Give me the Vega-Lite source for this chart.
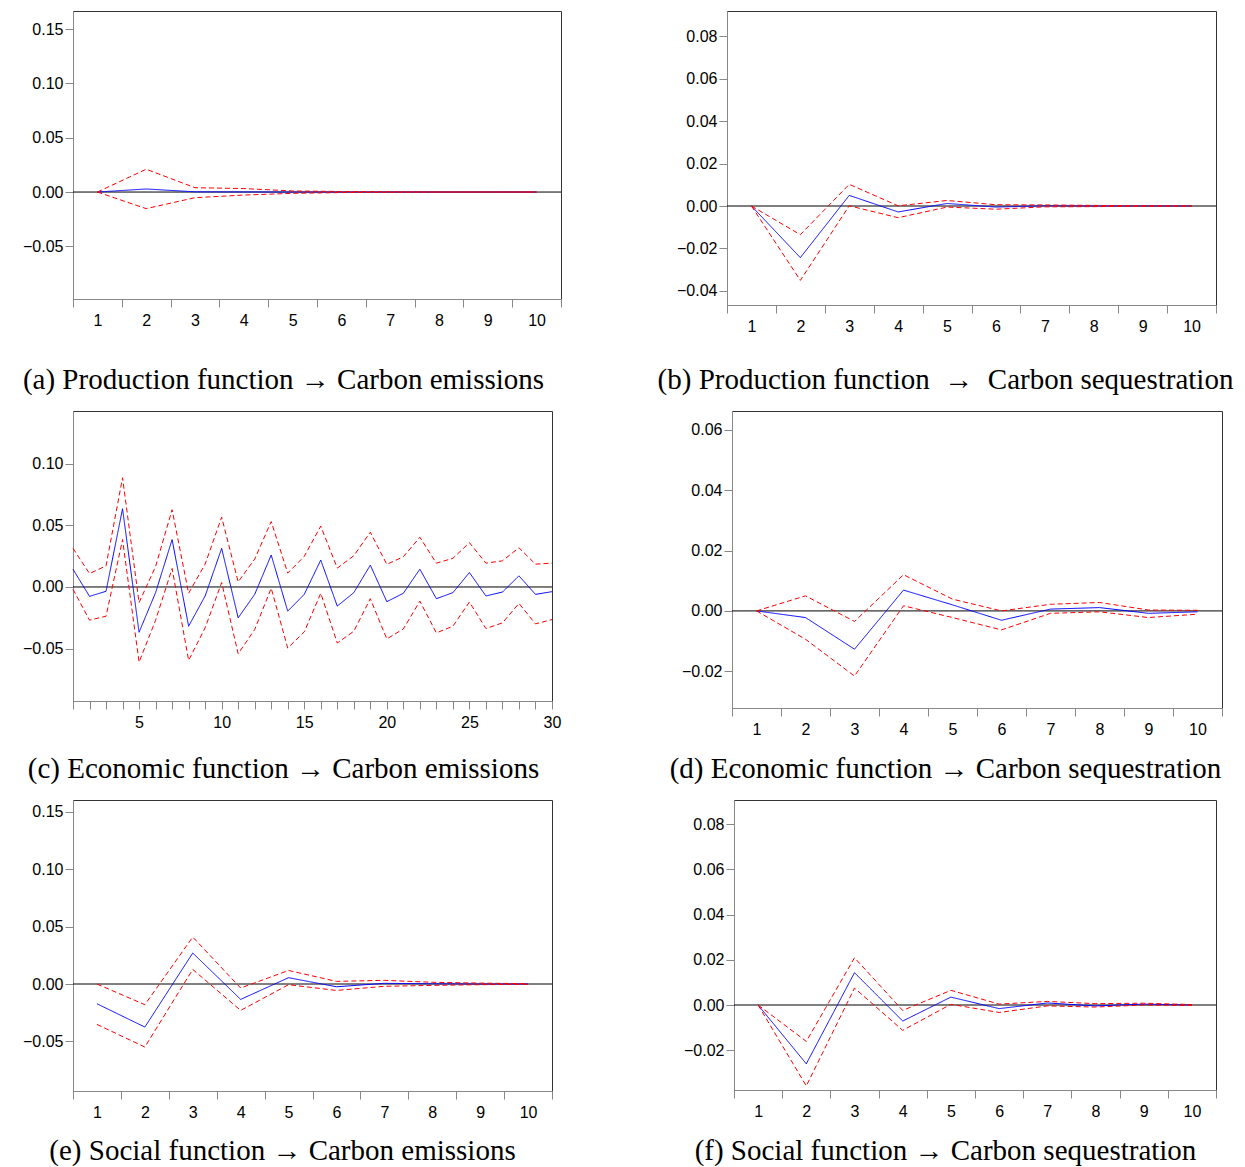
{
  "$schema": "https://vega.github.io/schema/vega-lite/v6.json",
  "background": "white",
  "padding": {"left": 12, "top": 10, "right": 5, "bottom": 0},
  "autosize": {"type": "pad"},
  "columns": 2,
  "align": "none",
  "bounds": "full",
  "spacing": {"row": 15, "column": 10},
  "config": {
    "view": {"stroke": "#333", "strokeWidth": 1},
    "axis": {"labelFont": "Liberation Sans", "labelFontSize": 16, "labelColor": "#000", "domainColor": "#888", "tickColor": "#888", "tickSize": 8, "grid": false, "titleFont": "Liberation Serif", "titleFontSize": 29, "titleFontWeight": "normal", "titleColor": "#000"},
    "axisX": {"labelPadding": 5},
    "axisY": {"labelPadding": 2}
  },
  "datasets": {
    "a": [
      {"h": 1, "r": 0, "u": 0, "l": 0},
      {"h": 2, "r": 0.0028, "u": 0.021, "l": -0.0153},
      {"h": 3, "r": 0.0002, "u": 0.004, "l": -0.0052},
      {"h": 4, "r": 0.0001, "u": 0.0032, "l": -0.0028},
      {"h": 5, "r": 0, "u": 0.001, "l": -0.0012},
      {"h": 6, "r": 0, "u": 0.0005, "l": -0.0005},
      {"h": 7, "r": 0, "u": 0.0002, "l": -0.0002},
      {"h": 8, "r": 0, "u": 0.0001, "l": -0.0001},
      {"h": 9, "r": 0, "u": 0.0001, "l": -0.0001},
      {"h": 10, "r": 0, "u": 0, "l": 0}
    ],
    "b": [
      {"h": 1, "r": 0, "u": 0, "l": 0},
      {"h": 2, "r": -0.0243, "u": -0.0135, "l": -0.035},
      {"h": 3, "r": 0.005, "u": 0.0102, "l": 0.0001},
      {"h": 4, "r": -0.0028, "u": 0.0001, "l": -0.0055},
      {"h": 5, "r": 0.0012, "u": 0.0026, "l": -0.0005},
      {"h": 6, "r": -0.0005, "u": 0.0006, "l": -0.0015},
      {"h": 7, "r": 0.0001, "u": 0.0005, "l": -0.0004},
      {"h": 8, "r": 0, "u": 0.0003, "l": -0.0003},
      {"h": 9, "r": 0, "u": 0.0001, "l": -0.0001},
      {"h": 10, "r": 0, "u": 0, "l": 0}
    ],
    "c": [
      {"h": 1, "r": 0.0144, "u": 0.0313, "l": -0.0019},
      {"h": 2, "r": -0.0076, "u": 0.0109, "l": -0.0269},
      {"h": 3, "r": -0.0035, "u": 0.0171, "l": -0.0237},
      {"h": 4, "r": 0.0634, "u": 0.0885, "l": 0.0384},
      {"h": 5, "r": -0.0367, "u": -0.0127, "l": -0.0609},
      {"h": 6, "r": -0.0046, "u": 0.0166, "l": -0.027},
      {"h": 7, "r": 0.0384, "u": 0.0626, "l": 0.015},
      {"h": 8, "r": -0.0318, "u": -0.0051, "l": -0.0595},
      {"h": 9, "r": -0.0073, "u": 0.0185, "l": -0.0331},
      {"h": 10, "r": 0.0313, "u": 0.0566, "l": 0.0036},
      {"h": 11, "r": -0.025, "u": 0.0041, "l": -0.0541},
      {"h": 12, "r": -0.006, "u": 0.0226, "l": -0.0345},
      {"h": 13, "r": 0.0259, "u": 0.053, "l": -0.001},
      {"h": 14, "r": -0.0196, "u": 0.0112, "l": -0.0495},
      {"h": 15, "r": -0.006, "u": 0.0248, "l": -0.0364},
      {"h": 16, "r": 0.0218, "u": 0.0493, "l": -0.0051},
      {"h": 17, "r": -0.0155, "u": 0.0153, "l": -0.0454},
      {"h": 18, "r": -0.0046, "u": 0.0253, "l": -0.0359},
      {"h": 19, "r": 0.0177, "u": 0.0444, "l": -0.0095},
      {"h": 20, "r": -0.0119, "u": 0.0183, "l": -0.0421},
      {"h": 21, "r": -0.0051, "u": 0.0245, "l": -0.034},
      {"h": 22, "r": 0.0144, "u": 0.0403, "l": -0.0115},
      {"h": 23, "r": -0.0095, "u": 0.0193, "l": -0.0372},
      {"h": 24, "r": -0.0046, "u": 0.0232, "l": -0.0318},
      {"h": 25, "r": 0.0117, "u": 0.0359, "l": -0.0122},
      {"h": 26, "r": -0.0073, "u": 0.0193, "l": -0.0337},
      {"h": 27, "r": -0.0041, "u": 0.0212, "l": -0.0291},
      {"h": 28, "r": 0.009, "u": 0.0318, "l": -0.0133},
      {"h": 29, "r": -0.006, "u": 0.0185, "l": -0.0299},
      {"h": 30, "r": -0.0038, "u": 0.0193, "l": -0.0264}
    ],
    "d": [
      {"h": 1, "r": 0, "u": 0, "l": 0},
      {"h": 2, "r": -0.0022, "u": 0.005, "l": -0.0094},
      {"h": 3, "r": -0.0127, "u": -0.0035, "l": -0.0216},
      {"h": 4, "r": 0.0069, "u": 0.012, "l": 0.0017},
      {"h": 5, "r": 0.002, "u": 0.0039, "l": -0.0022},
      {"h": 6, "r": -0.0031, "u": 0, "l": -0.0063},
      {"h": 7, "r": 0.0006, "u": 0.0022, "l": -0.0008},
      {"h": 8, "r": 0.0011, "u": 0.0028, "l": -0.0003},
      {"h": 9, "r": -0.0008, "u": 0.0003, "l": -0.0022},
      {"h": 10, "r": -0.0003, "u": 0.0002, "l": -0.0011}
    ],
    "e": [
      {"h": 1, "r": -0.0172, "u": 0, "l": -0.0352},
      {"h": 2, "r": -0.0375, "u": -0.018, "l": -0.0549},
      {"h": 3, "r": 0.027, "u": 0.0409, "l": 0.0127},
      {"h": 4, "r": -0.0134, "u": -0.0035, "l": -0.023},
      {"h": 5, "r": 0.0055, "u": 0.0118, "l": -0.0006},
      {"h": 6, "r": -0.0024, "u": 0.0023, "l": -0.0056},
      {"h": 7, "r": 0.0006, "u": 0.0032, "l": -0.002},
      {"h": 8, "r": 0.0002, "u": 0.0015, "l": -0.0012},
      {"h": 9, "r": 0, "u": 0.0008, "l": -0.0006},
      {"h": 10, "r": 0, "u": 0.0003, "l": -0.0003}
    ],
    "f": [
      {"h": 1, "r": 0, "u": 0, "l": 0},
      {"h": 2, "r": -0.026, "u": -0.0161, "l": -0.0358},
      {"h": 3, "r": 0.0143, "u": 0.0209, "l": 0.0075},
      {"h": 4, "r": -0.0071, "u": -0.0024, "l": -0.0112},
      {"h": 5, "r": 0.0035, "u": 0.0065, "l": 0.0003},
      {"h": 6, "r": -0.0016, "u": 0.0004, "l": -0.0033},
      {"h": 7, "r": 0.0009, "u": 0.0016, "l": -0.0004},
      {"h": 8, "r": -0.0004, "u": 0.0006, "l": -0.0009},
      {"h": 9, "r": 0.0004, "u": 0.0008, "l": 0},
      {"h": 10, "r": 0, "u": 0.0002, "l": -0.0002}
    ]
  },
  "concat": [
    {
      "width": 488, "height": 288,
      "layer": [
        {"data": {"values": [{"v": 0}]}, "mark": {"type": "rule", "color": "#000", "strokeWidth": 1},
         "encoding": {"y": {"field": "v", "type": "quantitative", "scale": {"domain": [-0.0985, 0.1667], "nice": false, "zero": false}, "axis": {"values": [-0.05, 0, 0.05, 0.1, 0.15], "format": ".2f", "title": null, "minExtent": 60}}}},
        {"data": {"name": "a"}, "transform": [{"fold": ["r", "u", "l"], "as": ["s", "v"]}],
         "mark": {"type": "line", "strokeWidth": 1},
         "encoding": {
           "x": {"field": "h", "type": "ordinal", "bandPosition": 0.5, "scale": {"type": "band", "paddingInner": 0, "paddingOuter": 0},
                 "axis": {"tickBand": "extent", "labelAngle": 0, "title": "(a) Production function → Carbon emissions", "titleX": 210, "titleY": 89, "titleBaseline": "alphabetic"}},
           "y": {"field": "v", "type": "quantitative", "scale": {"domain": [-0.0985, 0.1667], "nice": false, "zero": false},
                 "axis": {"values": [-0.05, 0, 0.05, 0.1, 0.15], "format": ".2f", "title": null, "minExtent": 60}},
           "color": {"field": "s", "type": "nominal", "scale": {"domain": ["r", "u", "l"], "range": ["#0000ff", "#ff0000", "#ff0000"]}, "legend": null},
           "strokeDash": {"field": "s", "type": "nominal", "scale": {"domain": ["r", "u", "l"], "range": [[1, 0], [5, 3], [5, 3]]}, "legend": null}
         }}
      ]
    },
    {
      "width": 489, "height": 294,
      "layer": [
        {"data": {"values": [{"v": 0}]}, "mark": {"type": "rule", "color": "#000", "strokeWidth": 1},
         "encoding": {"y": {"field": "v", "type": "quantitative", "scale": {"domain": [-0.0466, 0.0918], "nice": false, "zero": false}, "axis": {"values": [-0.04, -0.02, 0, 0.02, 0.04, 0.06, 0.08], "format": ".2f", "title": null, "minExtent": 154}}}},
        {"data": {"name": "b"}, "transform": [{"fold": ["r", "u", "l"], "as": ["s", "v"]}],
         "mark": {"type": "line", "strokeWidth": 1},
         "encoding": {
           "x": {"field": "h", "type": "ordinal", "bandPosition": 0.5, "scale": {"type": "band", "paddingInner": 0, "paddingOuter": 0},
                 "axis": {"tickBand": "extent", "labelAngle": 0, "title": "(b) Production function\u00a0 →\u00a0 Carbon sequestration", "titleX": 218, "titleY": 83, "titleBaseline": "alphabetic"}},
           "y": {"field": "v", "type": "quantitative", "scale": {"domain": [-0.0466, 0.0918], "nice": false, "zero": false},
                 "axis": {"values": [-0.04, -0.02, 0, 0.02, 0.04, 0.06, 0.08], "format": ".2f", "title": null, "minExtent": 154}},
           "color": {"field": "s", "type": "nominal", "scale": {"domain": ["r", "u", "l"], "range": ["#0000ff", "#ff0000", "#ff0000"]}, "legend": null},
           "strokeDash": {"field": "s", "type": "nominal", "scale": {"domain": ["r", "u", "l"], "range": [[1, 0], [5, 3], [5, 3]]}, "legend": null}
         }}
      ]
    },
    {
      "width": 479, "height": 290,
      "layer": [
        {"data": {"values": [{"v": 0}]}, "mark": {"type": "rule", "color": "#000", "strokeWidth": 1},
         "encoding": {"y": {"field": "v", "type": "quantitative", "scale": {"domain": [-0.0924, 0.1426], "nice": false, "zero": false}, "axis": {"values": [-0.05, 0, 0.05, 0.1], "format": ".2f", "title": null, "minExtent": 60}}}},
        {"data": {"name": "c"}, "transform": [{"fold": ["r", "u", "l"], "as": ["s", "v"]}],
         "mark": {"type": "line", "strokeWidth": 1},
         "encoding": {
           "x": {"field": "h", "type": "quantitative", "scale": {"domain": [1, 30], "nice": false, "zero": false},
                 "axis": {"values": [1,2,3,4,5,6,7,8,9,10,11,12,13,14,15,16,17,18,19,20,21,22,23,24,25,26,27,28,29,30], "format": "d", "labelExpr": "datum.value % 5 === 0 ? datum.label : ''", "labelFlush": false, "labelOverlap": false, "title": "(c) Economic function → Carbon emissions", "titleX": 210, "titleY": 76, "titleBaseline": "alphabetic"}},
           "y": {"field": "v", "type": "quantitative", "scale": {"domain": [-0.0924, 0.1426], "nice": false, "zero": false},
                 "axis": {"values": [-0.05, 0, 0.05, 0.1], "format": ".2f", "title": null, "minExtent": 60}},
           "color": {"field": "s", "type": "nominal", "scale": {"domain": ["r", "u", "l"], "range": ["#0000ff", "#ff0000", "#ff0000"]}, "legend": null},
           "strokeDash": {"field": "s", "type": "nominal", "scale": {"domain": ["r", "u", "l"], "range": [[1, 0], [5, 3], [5, 3]]}, "legend": null}
         }}
      ]
    },
    {
      "width": 490, "height": 297,
      "layer": [
        {"data": {"values": [{"v": 0}]}, "mark": {"type": "rule", "color": "#000", "strokeWidth": 1},
         "encoding": {"y": {"field": "v", "type": "quantitative", "scale": {"domain": [-0.0322, 0.0663], "nice": false, "zero": false}, "axis": {"values": [-0.02, 0, 0.02, 0.04, 0.06], "format": ".2f", "title": null, "minExtent": 159}}}},
        {"data": {"name": "d"}, "transform": [{"fold": ["r", "u", "l"], "as": ["s", "v"]}],
         "mark": {"type": "line", "strokeWidth": 1},
         "encoding": {
           "x": {"field": "h", "type": "ordinal", "bandPosition": 0.5, "scale": {"type": "band", "paddingInner": 0, "paddingOuter": 0},
                 "axis": {"tickBand": "extent", "labelAngle": 0, "title": "(d) Economic function → Carbon sequestration", "titleX": 213, "titleY": 69, "titleBaseline": "alphabetic"}},
           "y": {"field": "v", "type": "quantitative", "scale": {"domain": [-0.0322, 0.0663], "nice": false, "zero": false},
                 "axis": {"values": [-0.02, 0, 0.02, 0.04, 0.06], "format": ".2f", "title": null, "minExtent": 159}},
           "color": {"field": "s", "type": "nominal", "scale": {"domain": ["r", "u", "l"], "range": ["#0000ff", "#ff0000", "#ff0000"]}, "legend": null},
           "strokeDash": {"field": "s", "type": "nominal", "scale": {"domain": ["r", "u", "l"], "range": [[1, 0], [5, 3], [5, 3]]}, "legend": null}
         }}
      ]
    },
    {
      "width": 479, "height": 291,
      "layer": [
        {"data": {"values": [{"v": 0}]}, "mark": {"type": "rule", "color": "#000", "strokeWidth": 1},
         "encoding": {"y": {"field": "v", "type": "quantitative", "scale": {"domain": [-0.0932, 0.1603], "nice": false, "zero": false}, "axis": {"values": [-0.05, 0, 0.05, 0.1, 0.15], "format": ".2f", "title": null, "minExtent": 60}}}},
        {"data": {"name": "e"}, "transform": [{"fold": ["r", "u", "l"], "as": ["s", "v"]}],
         "mark": {"type": "line", "strokeWidth": 1},
         "encoding": {
           "x": {"field": "h", "type": "ordinal", "bandPosition": 0.5, "scale": {"type": "band", "paddingInner": 0, "paddingOuter": 0},
                 "axis": {"tickBand": "extent", "labelAngle": 0, "title": "(e) Social function → Carbon emissions", "titleX": 209, "titleY": 68, "titleBaseline": "alphabetic"}},
           "y": {"field": "v", "type": "quantitative", "scale": {"domain": [-0.0932, 0.1603], "nice": false, "zero": false},
                 "axis": {"values": [-0.05, 0, 0.05, 0.1, 0.15], "format": ".2f", "title": null, "minExtent": 60}},
           "color": {"field": "s", "type": "nominal", "scale": {"domain": ["r", "u", "l"], "range": ["#0000ff", "#ff0000", "#ff0000"]}, "legend": null},
           "strokeDash": {"field": "s", "type": "nominal", "scale": {"domain": ["r", "u", "l"], "range": [[1, 0], [5, 3], [5, 3]]}, "legend": null}
         }}
      ]
    },
    {
      "width": 482, "height": 290,
      "layer": [
        {"data": {"values": [{"v": 0}]}, "mark": {"type": "rule", "color": "#000", "strokeWidth": 1},
         "encoding": {"y": {"field": "v", "type": "quantitative", "scale": {"domain": [-0.0376, 0.0907], "nice": false, "zero": false}, "axis": {"values": [-0.02, 0, 0.02, 0.04, 0.06, 0.08], "format": ".2f", "title": null, "minExtent": 161}}}},
        {"data": {"name": "f"}, "transform": [{"fold": ["r", "u", "l"], "as": ["s", "v"]}],
         "mark": {"type": "line", "strokeWidth": 1},
         "encoding": {
           "x": {"field": "h", "type": "ordinal", "bandPosition": 0.5, "scale": {"type": "band", "paddingInner": 0, "paddingOuter": 0},
                 "axis": {"tickBand": "extent", "labelAngle": 0, "title": "(f) Social function → Carbon sequestration", "titleX": 211, "titleY": 69, "titleBaseline": "alphabetic"}},
           "y": {"field": "v", "type": "quantitative", "scale": {"domain": [-0.0376, 0.0907], "nice": false, "zero": false},
                 "axis": {"values": [-0.02, 0, 0.02, 0.04, 0.06, 0.08], "format": ".2f", "title": null, "minExtent": 161}},
           "color": {"field": "s", "type": "nominal", "scale": {"domain": ["r", "u", "l"], "range": ["#0000ff", "#ff0000", "#ff0000"]}, "legend": null},
           "strokeDash": {"field": "s", "type": "nominal", "scale": {"domain": ["r", "u", "l"], "range": [[1, 0], [5, 3], [5, 3]]}, "legend": null}
         }}
      ]
    }
  ]
}
